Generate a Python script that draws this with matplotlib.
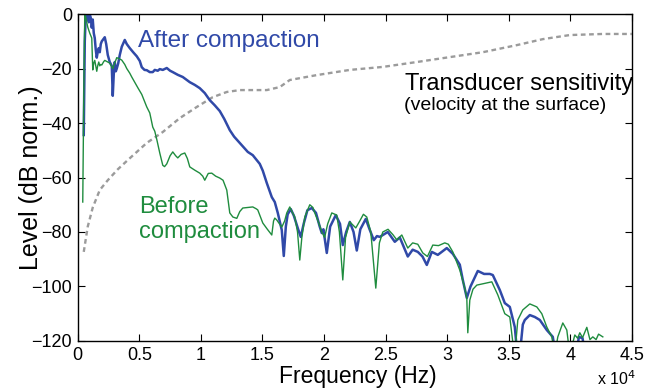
import matplotlib
matplotlib.use("Agg")
import matplotlib.pyplot as plt
from matplotlib.ticker import FuncFormatter

# Spectrum after compaction (Hz, dB normalised); values below -120 dB fall off the axis
freq_after = [487, 570, 650, 730, 812, 900, 975, 1060, 1137, 1218, 1300, 1381, 1460,
              1543, 1620, 1706, 1787, 1870, 1950, 2030, 2193, 2310, 2437, 2599, 2762,
              2843, 2925, 3006, 3090, 3168, 3290, 3412, 3574, 3818, 3980, 4224, 4500,
              4793, 5036, 5199, 5420, 5605, 5849, 6092, 6255, 6500, 6661, 6905, 7229,
              7500, 7717, 8123, 8529, 9098, 9504, 9910, 10316, 10722, 11128, 11535,
              11900, 12347, 12700, 13159, 13809, 14215, 14784, 15028, 15352, 15759,
              16002, 16246, 16571, 16733, 16900, 17050, 17302, 17550, 17900, 18114,
              18350, 18650, 19008, 19350, 19650, 19820, 19950, 20226, 20500, 20957,
              21300, 21526, 21800, 22095, 22400, 22663, 22950, 23394, 23700, 24044,
              24300, 24531, 25181, 25750, 26156, 26806, 27200, 27618, 28000, 28349,
              28755, 29243, 29974, 30461, 30786, 31030, 31274, 31598, 31900, 32492,
              33000, 33467, 33710, 34279, 34685, 35091, 35498, 35700, 35904, 36147,
              36310, 36716, 37122, 37529, 38097, 38584, 38800, 40500, 40700, 41000,
              41200]
level_after = [-44.4, -10, 0, -2, 0, -3, 0, -1.5, -5, -2, -7, -8.8, -13,
               -16, -14, -12.5, -14, -11, -10, -9.5, -8.5, -11, -15, -17.6, -19,
               -30, -22, -17.6, -21, -20, -18, -15, -12, -9.5, -11, -12.5, -14,
               -15.5, -17.2, -19.5, -20.5, -20.6, -21.3, -21.3, -20.5, -20.8, -20.2,
               -20.5, -19.8, -20.8, -21.3, -22.3, -23.1, -25, -26, -27.2, -29, -31.6,
               -33.5, -35.6, -38.5, -42.6, -45, -47.3, -50.6, -51.8, -55, -57.5, -62,
               -67.2, -69, -73, -79.3, -88.8, -78, -73.5, -71.6, -74, -79, -81.8,
               -77, -72, -71.2, -73, -78, -80.4, -79, -87.7, -78, -73.8,
               -77, -84.8, -80, -76.3, -80, -86.8, -79, -75.2, -79, -83,
               -81.5, -81.8, -80, -83.6, -82, -89, -86.5, -87.3, -89, -92.1,
               -87.3, -88.4, -85.9, -88, -90.3, -92, -97.6, -104.2, -100, -94.3,
               -95.4, -95.4, -95.8, -101.3, -106.1, -107.5, -114.9, -125, -125, -114,
               -112.3, -110.5, -111.2, -112.3, -116, -118.5, -125, -125, -118.5, -119,
               -125]

# Spectrum before compaction
freq_before = [406, 487, 570, 650, 730, 812, 900, 975, 1060, 1137, 1218, 1300, 1381,
               1460, 1543, 1620, 1706, 1787, 1870, 1950, 2100, 2193, 2400, 2599, 2843,
               3000, 3168, 3412, 3574, 3818, 3980, 4224, 4386, 4874, 5199, 5605, 5849,
               6092, 6255, 6417, 6661, 6905, 7050, 7229, 7500, 7717, 7950, 8123, 8400,
               8692, 8900, 9098, 9504, 9910, 10150, 10316, 10600, 10885, 11200, 11535,
               11800, 12103, 12347, 12600, 12916, 13159, 13403, 13800, 14215, 14500,
               14621, 15028, 15400, 15759, 15900, 16002, 16165, 16571, 16800, 16977,
               17221, 17450, 17627, 17850, 18033, 18200, 18439, 18845, 19100, 19251,
               19600, 19820, 20050, 20300, 20632, 21039, 21250, 21526, 21750, 22095,
               22582, 22900, 23200, 23475, 23800, 24207, 24500, 24775, 25200, 25600,
               25913, 26319, 26806, 27200, 27618, 28024, 28400, 28837, 29300, 29811,
               30100, 30461, 31030, 31400, 31598, 31680, 31842, 32100, 32411, 33223,
               33629, 34117, 34685, 35091, 35335, 35500, 35741, 36147, 36716, 37285,
               37691, 38097, 38503, 38747, 38990, 39396, 39721, 39965, 40371, 40600,
               40777, 41000, 41346, 41600, 41833, 42100, 42300, 42646]
level_before = [-69, -30, 0, -1, -3, -4.8, -6, -7, -8, -8.8, -20.5, -18, -17,
                -19, -21, -19, -17.6, -19, -18.5, -18.7, -17.5, -17, -17.5, -18, -20,
                -18, -16, -16.5, -16.9, -18.5, -20, -21.7, -23.1, -27, -29.5, -34.1,
                -36.3, -41.5, -43, -46, -51, -55.5, -56, -55, -52, -50.6, -52, -52.8,
                -51.5, -51, -53, -56.1, -57.3, -58.4, -59.5, -61, -58.5, -58.4, -59.5,
                -60.2, -61, -64.6, -73, -74.5, -75, -72.5, -71.2, -71, -70.8, -71.5,
                -71.9, -76.7, -79, -81.1, -76, -74.9, -75.6, -78.2, -76, -73,
                -70.8, -73, -74.5, -80, -90.3, -82, -74.5, -70, -71, -73,
                -77, -80, -82, -77, -73, -73.8, -80, -97.6, -82, -76.3,
                -78.5, -76, -73.5, -74.5, -80, -100.6, -84, -80, -79, -81,
                -82.9, -81.1, -85.9, -84, -84.5, -87.7, -89, -84.8, -85, -84,
                -84.5, -87.3, -94, -100, -104.2, -117, -105, -101, -99.5, -98.7,
                -98.3, -103.1, -110, -111.2, -120.5, -125, -112.3, -108.6, -106.4, -107.5,
                -110, -114.9, -118.5, -125, -118.5, -113.4, -116, -125, -117.8, -119,
                -117, -118.8, -115, -119.5, -118.5, -119.5, -117.5, -118.5]

# Transducer sensitivity (velocity at the surface)
freq_sens = [487, 812, 1218, 1787, 2437, 3250, 4062, 5605, 6905, 8285, 9667, 10966,
             12103, 13159, 15352, 16408, 17221, 19414, 22095, 24775, 27537, 30218,
             32898, 35660, 37772, 39965, 42646, 45000]
level_sens = [-87.3, -78, -71, -64.6, -61, -57, -53.6, -47.3, -43.3, -38.2, -34.1,
              -30.5, -28.6, -27.9, -27.9, -26.8, -24.2, -22.4, -20.5, -19.4, -17.6,
              -15.8, -14, -11.4, -9.2, -7.7, -7.3, -7.3]

x_ticks = [0, 5000, 10000, 15000, 20000, 25000, 30000, 35000, 40000, 45000]
y_ticks = [-120, -100, -80, -60, -40, -20, 0]

BLUE = "#3049a8"
GREEN = "#1f8c3e"
GRAY = "#9b9b9b"

plt.rcParams['font.family'] = ['Liberation Sans', 'DejaVu Sans']

fig = plt.figure(figsize=(6.48, 3.91), dpi=100)
ax = fig.add_axes([0.120, 0.128, 0.855, 0.836])

ax.plot(freq_sens, level_sens, color=GRAY, lw=1.7, ls=(0, (2.0, 1.5)))
ax.plot(freq_after, level_after, color=BLUE, lw=1.8)
ax.plot(freq_before, level_before, color=GREEN, lw=1.0)

ax.set_xlim(0, 45000)
ax.set_ylim(-120, 0)
ax.set_xticks(x_ticks)
ax.set_yticks(y_ticks)
ax.xaxis.set_major_formatter(FuncFormatter(lambda v, p: f"{v / 1e4:g}"))
ax.tick_params(direction='in', top=True, right=True, length=5, width=0.8,
               labelsize=13, pad=4)
for s in ax.spines.values():
    s.set_linewidth(1.0)

ax.set_xlabel("Frequency (Hz)", fontsize=16.5)
ax.xaxis.set_label_coords(0.505, -0.075)
ax.set_ylabel("Level (dB norm.)", fontsize=18)
ax.yaxis.set_label_coords(-0.062, 0.5)
ax.text(1.008, -0.115, r"x 10$^4$", transform=ax.transAxes, ha='right', va='center',
        fontsize=11.5)

ax.text(4874, -12.1, "After compaction", color=BLUE, fontsize=17.5, va='baseline')
ax.text(4955, -82.2, "Before\ncompaction", color=GREEN, fontsize=17, va='baseline',
        linespacing=1.2)
ax.text(26562, -27.9, "Transducer sensitivity", color='black', fontsize=17,
        va='baseline')
ax.text(26480, -35.2, "(velocity at the surface)", color='black', fontsize=14,
        va='baseline')

fig.savefig("out.png", dpi=100)
